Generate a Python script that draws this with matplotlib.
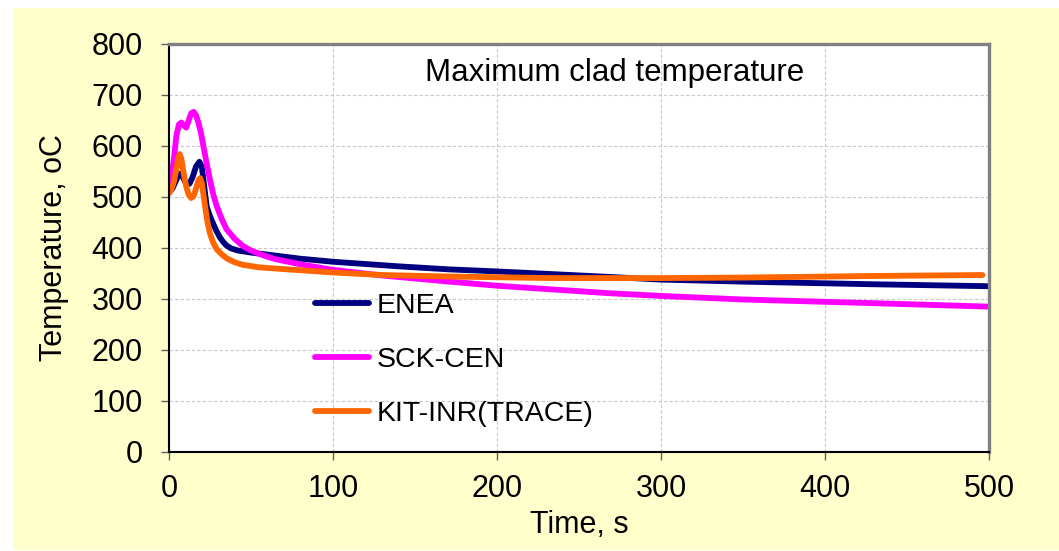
import matplotlib
matplotlib.use('Agg')
import matplotlib.pyplot as plt
from matplotlib.patches import Rectangle

plt.rcParams['font.family'] = ['Liberation Sans', 'DejaVu Sans']

# readings (time in s, temperature in oC)
t_enea = [0, 2, 4, 6, 7.5, 9, 10.5, 12.5, 14.5, 16.5, 18.5, 20, 21.5, 23, 25, 27, 29, 31, 33, 35,
          38, 42, 50, 60, 80, 100, 140, 171, 200, 232, 270, 300, 350, 427, 500]
T_enea = [510, 516, 530, 545, 546, 535, 526, 526, 540, 560, 569, 560, 520, 481, 462, 447, 433, 421, 412, 405,
          399, 395, 391, 387, 379, 373, 364, 358, 354, 349, 343, 338, 334, 329, 325]

t_sck = [0, 1.5, 3, 4.5, 6, 7.5, 9, 10.5, 12, 13.5, 15, 16.5, 18, 19.5, 21, 23, 25, 27, 29, 32, 35,
         40, 45, 50, 57, 65, 80, 100, 130, 171, 200, 232, 270, 300, 350, 427, 500]
T_sck = [525, 540, 575, 620, 642, 646, 640, 636, 650, 664, 667, 660, 645, 625, 599, 565, 533, 505, 483, 458, 437,
         418, 404, 395, 386, 378, 368, 357, 346, 334, 326, 319, 311, 306, 299, 292, 285]

t_kit = [0, 1.5, 3, 4.5, 5.5, 6.5, 7.5, 9, 10.5, 12, 13.5, 15, 16.5, 18, 19, 20, 21, 22, 23.5, 25, 27, 29,
         32, 35, 40, 45, 55, 68, 100, 130, 171, 232, 300, 350, 427, 496]
T_kit = [507, 515, 530, 555, 575, 584, 575, 545, 520, 505, 498, 502, 517, 533, 537, 528, 505, 481, 450, 428, 410, 398,
         388, 380, 372, 367, 362, 359, 352, 347, 344, 341, 341, 342, 345, 347]

series = [('ENEA', t_enea, T_enea, '#000080'),
          ('SCK-CEN', t_sck, T_sck, '#FF00FF'),
          ('KIT-INR(TRACE)', t_kit, T_kit, '#FF6600')]

fig = plt.figure(figsize=(10.59, 5.51), dpi=100)
# pale yellow panel behind the chart
fig.patches.append(Rectangle((13/1059, 1/551), 1 - 13/1059, 542/551,
                             transform=fig.transFigure, facecolor='#FFFFCC',
                             edgecolor='none', zorder=-1))

ax = fig.add_axes([0.1596, 0.1797, 0.7743, 0.7405])
ax.set_facecolor('white')

for name, t, T, c in series:
    ax.plot(t, T, color=c, lw=4.2, label=name, solid_capstyle='round', solid_joinstyle='round')

ax.set_xlim(0, 500)
ax.set_ylim(0, 800)
ax.set_xticks(range(0, 501, 100))
ax.set_yticks(range(0, 801, 100))
ax.grid(True, ls=(0, (3, 2)), color='#c8c8c8', lw=0.8)
ax.set_axisbelow(True)

ax.tick_params(axis='both', labelsize=22, length=6, width=1, color='#606060')
ax.tick_params(axis='x', pad=10)
ax.tick_params(axis='y', pad=13)

for s in ['top', 'right']:
    ax.spines[s].set_color('#808080')
    ax.spines[s].set_linewidth(2.4)
for s in ['left', 'bottom']:
    ax.spines[s].set_color('black')
    ax.spines[s].set_linewidth(1.5)

ax.set_xlabel('Time, s', fontsize=22, labelpad=4)
ax.set_ylabel('Temperature, oC', fontsize=22, labelpad=16)

ax.text(0.544, 0.928, 'Maximum clad temperature', transform=ax.transAxes,
        ha='center', va='center', fontsize=22.5)

ax.legend(loc='upper left', bbox_to_anchor=(0.178, 0.39), frameon=False,
          fontsize=20.5, handlelength=1.9, handletextpad=0.25,
          labelspacing=0.98, borderpad=0, borderaxespad=0)

plt.savefig('out.png', dpi=100)
